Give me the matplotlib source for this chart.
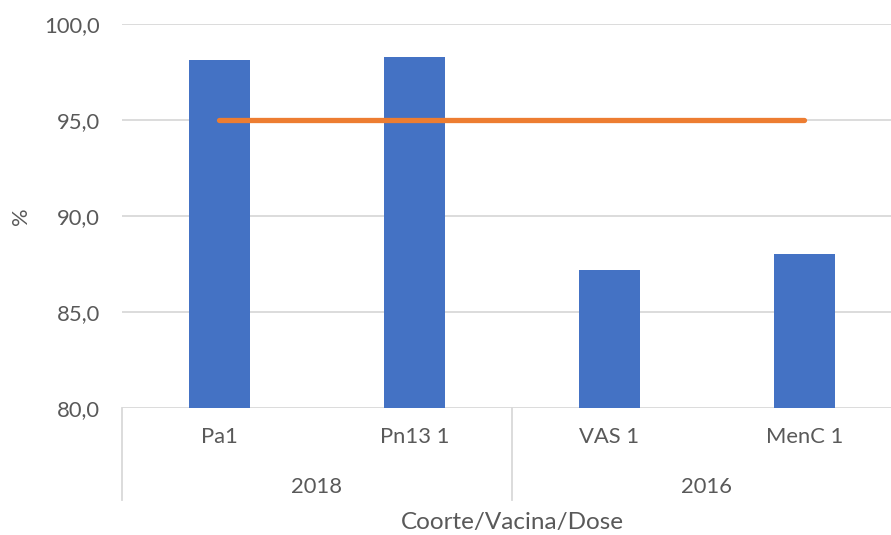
import matplotlib
matplotlib.use("Agg")
import matplotlib.pyplot as plt
from matplotlib.lines import Line2D
import matplotlib.transforms as mtransforms

# Data
vacinas = ["Pa1", "Pn13 1", "VAS 1", "MenC 1"]
coortes = ["2018", "2016"]
coorte_sizes = [2, 2]
cobertura = [98.1, 98.3, 87.2, 88.0]
meta = [95.0, 95.0, 95.0, 95.0]
yticks = [80, 85, 90, 95, 100]

BLUE = "#4472C4"
ORANGE = "#ED7D31"
GRID = "#D9D9D9"
TEXT = "#595959"
FONT = "Lato"
FS = 15.8

W, H = 891, 535
fig = plt.figure(figsize=(W / 100, H / 100), dpi=100)
ax_left, ax_right, ax_top, ax_bottom = 122, 891, 24, 408
ax_w = ax_right - ax_left
ax = fig.add_axes([ax_left / W, 1 - ax_bottom / H,
                   ax_w / W, (ax_bottom - ax_top) / H])

x = list(range(len(vacinas)))
cat_px = 195.0
ax.set_xlim(-0.5, -0.5 + ax_w / cat_px)
ax.set_ylim(80, 100)

ax.bar(x, cobertura, width=0.31, color=BLUE, zorder=2)
ax.plot(x, meta, color=ORANGE, lw=3.8, solid_capstyle="round", zorder=3)

# Y axis
ax.set_yticks(yticks)
ax.set_yticklabels([f"{v:.1f}".replace(".", ",") for v in yticks],
                   fontsize=FS, color=TEXT, fontfamily=FONT)
ax.tick_params(axis="y", length=0, pad=16)
ax.tick_params(axis="x", length=0, labelbottom=False)
ax.yaxis.grid(True, color=GRID, lw=1.3, zorder=0)
ax.set_axisbelow(True)
for s in ax.spines.values():
    s.set_visible(False)
ax.set_ylabel("%", fontsize=FS, color=TEXT, fontfamily=FONT)
ax.yaxis.set_label_coords((31 - ax_left) / ax_w, 0.5)

# Hierarchical category axis
trans = mtransforms.blended_transform_factory(ax.transData, ax.transAxes)
h_px = ax_bottom - ax_top
y_lab1 = -(437 - ax_bottom) / h_px
y_lab2 = -(487 - ax_bottom) / h_px
y_end = -(500 - ax_bottom) / h_px

for xi, lab in zip(x, vacinas):
    ax.text(xi, y_lab1, lab, transform=trans, ha="center", va="center",
            fontsize=FS, color=TEXT, fontfamily=FONT)

start = 0
bounds = [-0.5]
for name, n in zip(coortes, coorte_sizes):
    center = start + (n - 1) / 2
    ax.text(center, y_lab2, name, transform=trans, ha="center", va="center",
            fontsize=FS, color=TEXT, fontfamily=FONT)
    start += n
    bounds.append(start - 0.5)

for b in bounds:
    ax.add_line(Line2D([b, b], [0, y_end], transform=trans, color=GRID,
                       lw=1.3, clip_on=False))

fig.text(512 / W, 1 - 523 / H, "Coorte/Vacina/Dose", ha="center", va="center",
         fontsize=17.5, color=TEXT, fontfamily=FONT)

fig.savefig("out.png", dpi=100, facecolor="white")
